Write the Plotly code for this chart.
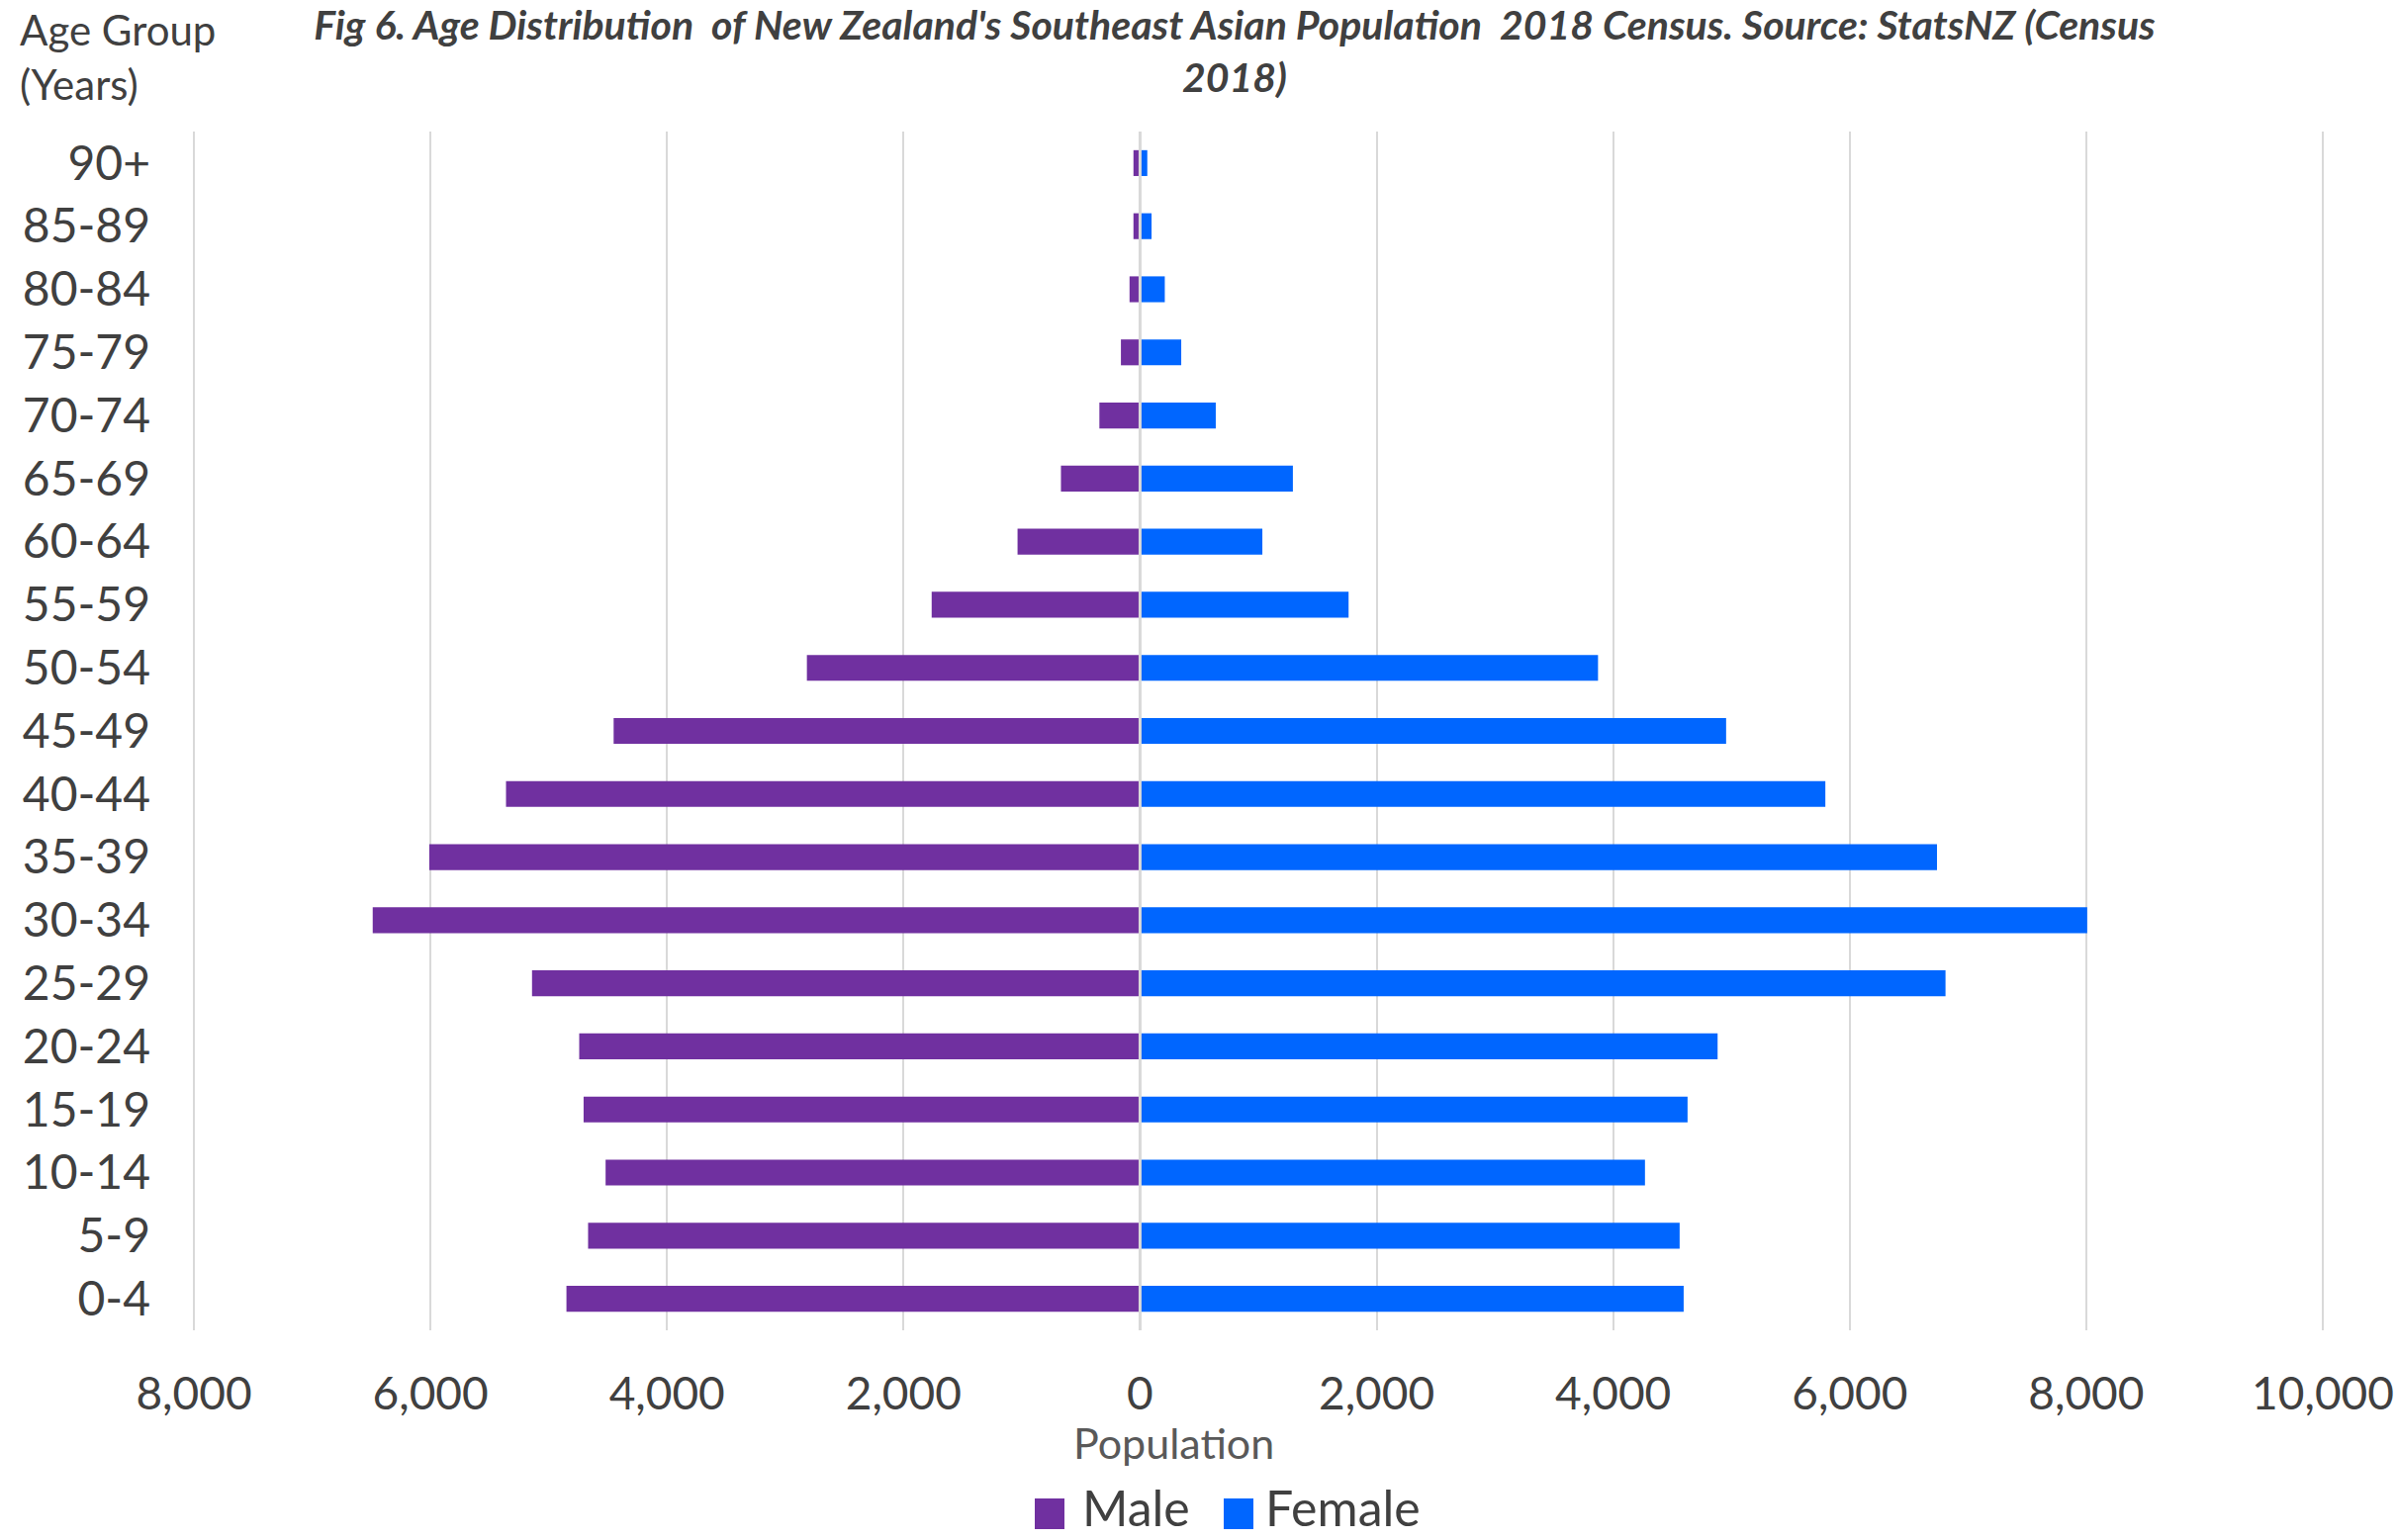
import plotly.graph_objects as go

age_groups = ["0-4", "5-9", "10-14", "15-19", "20-24", "25-29", "30-34", "35-39",
              "40-44", "45-49", "50-54", "55-59", "60-64", "65-69", "70-74",
              "75-79", "80-84", "85-89", "90+"]
male = [4850, 4667, 4519, 4705, 4742, 5141, 6488, 6010, 5361, 4451, 2817,
        1762, 1036, 669, 344, 162, 89, 56, 56]
female = [4596, 4562, 4269, 4629, 4883, 6810, 8008, 6738, 5794, 4955, 3872,
          1763, 1034, 1292, 640, 348, 209, 97, 61]
tick_values = [-8000, -6000, -4000, -2000, 0, 2000, 4000, 6000, 8000, 10000]
tick_labels = ["8,000", "6,000", "4,000", "2,000", "0", "2,000", "4,000",
               "6,000", "8,000", "10,000"]

FONT = "Lato, 'Open Sans', sans-serif"
PURPLE = "#7030A0"
BLUE = "#0066FF"
TEXT = "#404040"

W, H = 2422, 1557
L, R, T, B = 193, 71, 133, 212
pw, ph = W - L - R, H - T - B


def px(xw):  # pixel x -> paper x
    return (xw - L) / pw


def py(yw):  # pixel y -> paper y
    return (T + ph - yw) / ph


fig = go.Figure()
fig.add_trace(go.Bar(y=age_groups, x=[-v for v in male], orientation="h",
                     name="Male", marker=dict(color=PURPLE, line=dict(width=0)),
                     customdata=male, showlegend=False,
                     hovertemplate="%{y}: %{customdata:,}<extra>Male</extra>"))
fig.add_trace(go.Bar(y=age_groups, x=female, orientation="h",
                     name="Female", marker=dict(color=BLUE, line=dict(width=0)),
                     showlegend=False,
                     hovertemplate="%{y}: %{x:,}<extra>Female</extra>"))

fig.update_layout(
    width=W, height=H,
    margin=dict(l=L, r=R, t=T, b=B, autoexpand=False),
    paper_bgcolor="white", plot_bgcolor="white",
    barmode="overlay", bargap=0.59,
    font=dict(family=FONT, color=TEXT),
    title=dict(
        text="<b><i>Fig 6. Age Distribution  of New Zealand's Southeast Asian Population  2018 Census. Source: StatsNZ (Census<br>2018)</i></b>",
        x=1248 / W, xanchor="center", xref="container",
        y=1 - 40 / H, yanchor="middle", yref="container",
        font=dict(family=FONT, size=41, color=TEXT), automargin=False),
    xaxis=dict(range=[-8025, 10025], tickvals=tick_values, ticktext=tick_labels,
               showgrid=True, gridcolor="#d9d9d9", gridwidth=2, zeroline=False,
               showline=False, ticks="", ticklabelstandoff=33,
               ticklabeloverflow="allow",
               tickfont=dict(family=FONT, size=46, color=TEXT), fixedrange=True),
    yaxis=dict(type="category", categoryorder="array", categoryarray=age_groups,
               range=[-0.5, 18.5], showgrid=False, zeroline=False, showline=False,
               ticks="", ticklabelstandoff=40,
               tickfont=dict(family=FONT, size=48, color=TEXT), fixedrange=True),
    showlegend=False,
)

# zero divider line drawn over the bars
fig.add_shape(type="line", xref="x", yref="paper", x0=0, x1=0, y0=0, y1=1,
              line=dict(color="#d9d9d9", width=3), layer="above")

# x-axis title
fig.add_annotation(text="Population", xref="paper", yref="paper",
                   x=px(1186), y=py(1458),
                   xanchor="center", yanchor="middle", showarrow=False,
                   font=dict(family=FONT, size=43, color="#595959"))
# y-axis title at top-left
fig.add_annotation(text="Age Group<br>(Years)", xref="paper", yref="paper",
                   x=px(18), y=py(58),
                   xanchor="left", yanchor="middle", align="left", showarrow=False,
                   font=dict(family=FONT, size=42, color=TEXT))

# legend (large square keys, as in the original)
legend_items = [("Male", PURPLE, 1046, 1093), ("Female", BLUE, 1237, 1278)]
for label, color, sq_x, txt_x in legend_items:
    fig.add_shape(type="rect", xref="paper", yref="paper",
                  x0=px(sq_x), x1=px(sq_x + 30), y0=py(1546), y1=py(1515),
                  fillcolor=color, line=dict(width=0), layer="above")
    fig.add_annotation(text=label, xref="paper", yref="paper",
                       x=px(txt_x), y=py(1524), xanchor="left", yanchor="middle",
                       showarrow=False, borderpad=0,
                       font=dict(family=FONT, size=50, color=TEXT))

# the page body normally has an 8px margin; remove it so the figure fills the window
fig.write_html("out.html", config={"displayModeBar": False},
               post_script="document.body.style.margin='0';")
